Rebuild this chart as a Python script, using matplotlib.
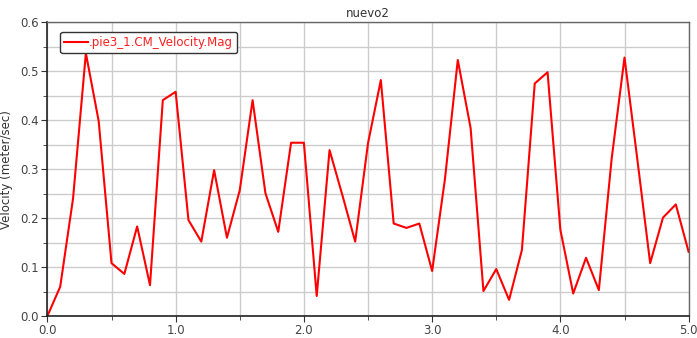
import matplotlib
matplotlib.use("Agg")
import matplotlib.pyplot as plt
from matplotlib.ticker import MultipleLocator

time = [0.0, 0.1, 0.2, 0.3, 0.4, 0.5, 0.6, 0.7, 0.8, 0.9,
        1.0, 1.1, 1.2, 1.3, 1.4, 1.5, 1.6, 1.7, 1.8, 1.9,
        2.0, 2.1, 2.2, 2.3, 2.4, 2.5, 2.6, 2.7, 2.8, 2.9,
        3.0, 3.1, 3.2, 3.3, 3.4, 3.5, 3.6, 3.7, 3.8, 3.9,
        4.0, 4.1, 4.2, 4.3, 4.4, 4.5, 4.6, 4.7, 4.8, 4.9, 5.0]
velocity = [0.0, 0.060, 0.240, 0.537, 0.398, 0.108, 0.086, 0.183, 0.063, 0.441,
            0.458, 0.196, 0.152, 0.298, 0.160, 0.257, 0.441, 0.251, 0.172, 0.354,
            0.354, 0.041, 0.339, 0.247, 0.152, 0.353, 0.482, 0.189, 0.180, 0.189,
            0.092, 0.280, 0.523, 0.384, 0.051, 0.096, 0.033, 0.135, 0.475, 0.498,
            0.176, 0.046, 0.119, 0.053, 0.322, 0.528, 0.320, 0.108, 0.201, 0.228, 0.131]

title = "nuevo2"
series_name = ".pie3_1.CM_Velocity.Mag"
y_label = "Velocity (meter/sec)"

fig = plt.figure(figsize=(6.97, 3.38), dpi=100)
ax = fig.add_axes([0.068, 0.065, 0.920, 0.869])

ax.plot(time, velocity, color="#ff0000", lw=1.5, label=series_name)

ax.set_xlim(0, 5)
ax.set_ylim(0, 0.6)
ax.xaxis.set_major_locator(MultipleLocator(1.0))
ax.xaxis.set_minor_locator(MultipleLocator(0.5))
ax.yaxis.set_major_locator(MultipleLocator(0.1))
ax.yaxis.set_minor_locator(MultipleLocator(0.05))
ax.xaxis.set_major_formatter(matplotlib.ticker.FormatStrFormatter("%.1f"))
ax.yaxis.set_major_formatter(matplotlib.ticker.FormatStrFormatter("%.1f"))

ax.grid(True, which="both", color="#cccccc", lw=1.0)
ax.set_axisbelow(True)

ax.tick_params(axis="both", which="major", labelsize=8.5, labelcolor="#444444",
               length=4, color="#333333", direction="out", pad=2)
ax.tick_params(axis="both", which="minor", length=3, color="#333333", direction="out")

for side in ["left", "bottom"]:
    ax.spines[side].set_color("#222222")
    ax.spines[side].set_linewidth(1.2)
for side in ["top", "right"]:
    ax.spines[side].set_color("#666666")
    ax.spines[side].set_linewidth(1.0)

ax.set_ylabel(y_label, fontsize=8.5, color="#333333", labelpad=5)
ax.set_title(title, fontsize=8.5, color="#333333", pad=4)

leg = ax.legend(loc="upper left", bbox_to_anchor=(0.02, 0.968), fontsize=8.5,
                frameon=True, fancybox=True, handlelength=2.0, handletextpad=0.1,
                borderpad=0.35, borderaxespad=0.0)
leg.get_frame().set_edgecolor("#333333")
leg.get_frame().set_linewidth(1.0)
leg.get_frame().set_alpha(1.0)
for t in leg.get_texts():
    t.set_color("#ff2020")

fig.savefig("out.png", dpi=100)
